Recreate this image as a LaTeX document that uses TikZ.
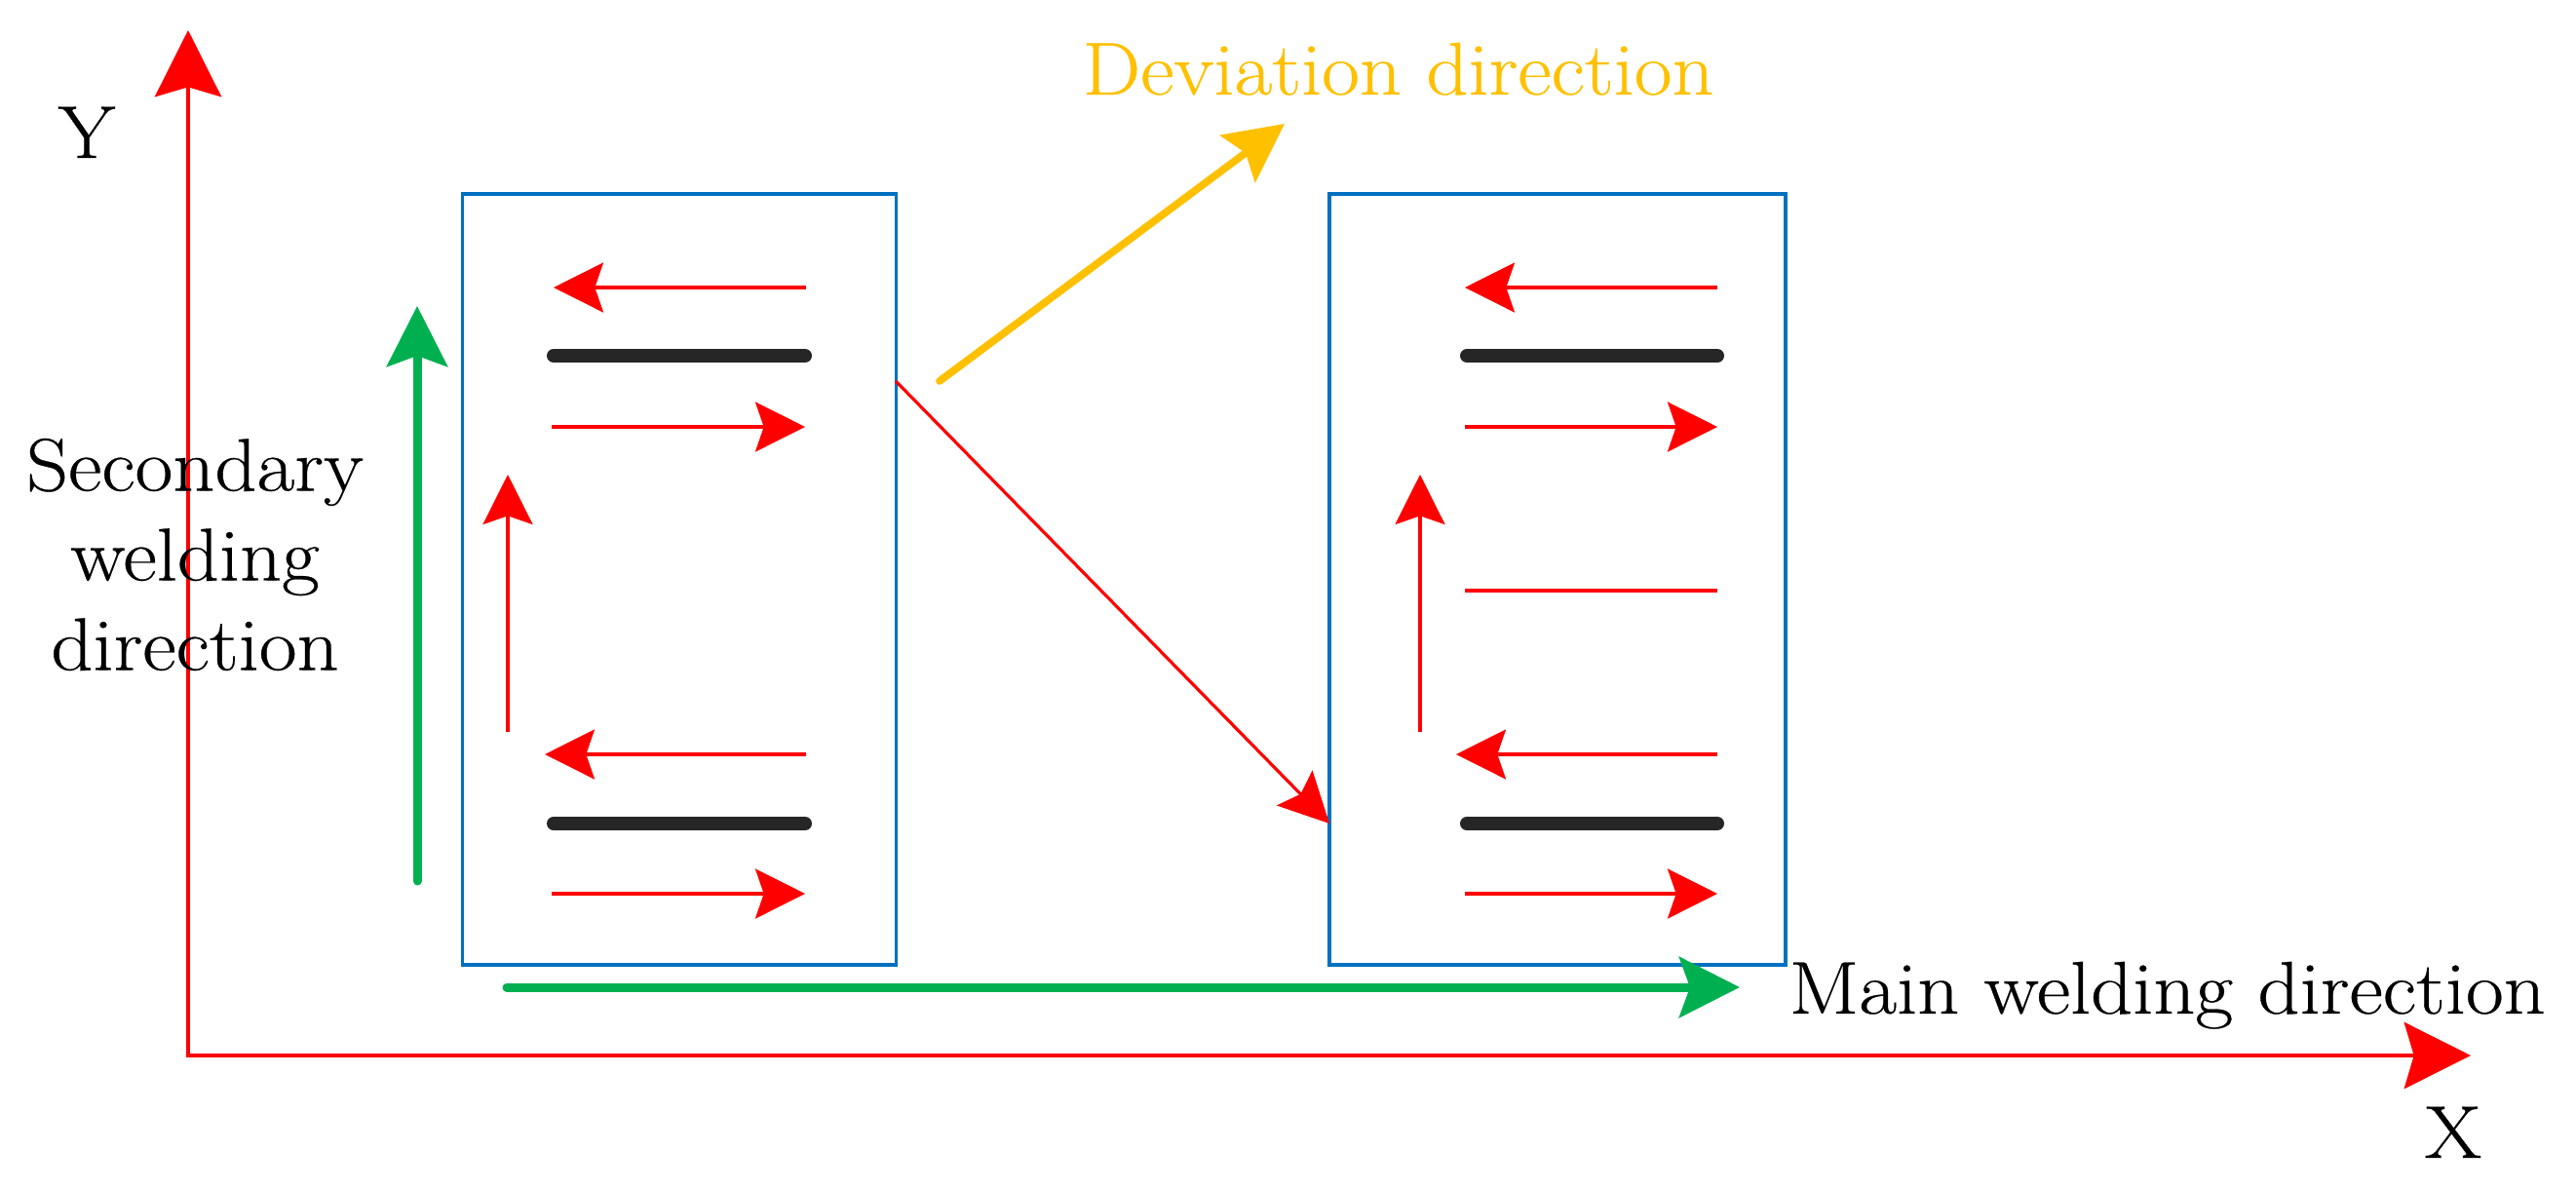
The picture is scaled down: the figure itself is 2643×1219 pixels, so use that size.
\documentclass[tikz,border=0pt]{standalone}
\usepackage{fontspec}
\setmainfont{Latin Modern Roman}[FakeStretch=1.1, FakeBold=0.4]
\usetikzlibrary{arrows.meta,calc}
\definecolor{axred}{HTML}{FF0000}
\definecolor{boxblue}{HTML}{0070C0}
\definecolor{wgreen}{HTML}{00B050}
\definecolor{devyellow}{HTML}{FFC000}
\definecolor{barblack}{HTML}{262626}
\begin{document}
\begin{tikzpicture}[x=0.3pt,y=-0.3pt,
  lbl/.style={inner sep=0pt, font=\fontsize{23}{27.6}\selectfont},
  panel/.style={draw=boxblue, line width=1pt, inner sep=0pt},
  redtip/.style={-{Stealth[length=15.3pt,width=15.3pt,inset=2.6pt]}},
  thinred/.style={draw=axred, line width=0.95pt},
  redarrow/.style={thinred, redtip},
  axisarrow/.style={draw=axred, line width=0.95pt, {Stealth[length=20.5pt,width=20.5pt,inset=3pt]}-{Stealth[length=20.5pt,width=20.5pt,inset=3pt]}},
  greenarrow/.style={draw=wgreen, line width=2.7pt, line cap=round, -{Stealth[length=18.6pt,width=18.6pt,inset=3.3pt]}},
  yellowarrow/.style={draw=devyellow, line width=2.3pt, line cap=round, -{Stealth[length=18pt,width=18pt,inset=3pt]}},
  bar/.style={draw=barblack, line width=4.2pt, line cap=round}]
\useasboundingbox (0,0) rectangle (2643,1219);

% axes
\coordinate (ytip) at (193,31);
\coordinate (orig) at (193,1083);
\coordinate (xtip) at (2535,1083);
\draw[axisarrow] (ytip) -- (orig) -- (xtip);
\node[lbl, anchor=base] (ylab) at (89,162) {Y};
\node[lbl, anchor=base] (xlab) at (2517,1188) {X};

% panels
\node[panel, minimum width=133.5pt, minimum height=237.3pt] (L) at (696.75,594.5) {};
\node[panel, minimum width=140.4pt, minimum height=237.3pt] (R) at (1598,594.5) {};

% left panel contents
\draw[redarrow] (827,295) -- (568,295);
\draw[bar] (568,365) -- (826,365);
\draw[redarrow] (566,438) -- (826,438);
\draw[redarrow] (521,751) -- (521,487);
\draw[redarrow] (827,774) -- (559,774);
\draw[bar] (568,845) -- (826,845);
\draw[redarrow] (566,917) -- (826,917);

% right panel contents
\draw[redarrow] (1762,295) -- (1503,295);
\draw[bar] (1505,365) -- (1762,365);
\draw[redarrow] (1503,438) -- (1762,438);
\draw[redarrow] (1457,751) -- (1457,487);
\draw[thinred] (1503,606) -- (1762,606);
\draw[redarrow] (1762,774) -- (1494,774);
\draw[bar] (1505,845) -- (1762,845);
\draw[redarrow] (1503,917) -- (1762,917);

% transfer arrow
\coordinate (d1) at (919,391);
\coordinate (d2) at (1364,845);
\draw[redarrow] (d1) -- (d2);

% deviation
\coordinate (y1) at (964,391);
\coordinate (y2) at (1318,127);
\draw[yellowarrow] (y1) -- (y2);
\node[lbl, anchor=base west, text=devyellow] (dev) at (1110,97) {Deviation direction};

% welding directions
\coordinate (g1) at (428,904);
\coordinate (g2) at (428,314);
\draw[greenarrow] (g1) -- (g2);
\coordinate (h1) at (520,1013);
\coordinate (h2) at (1785,1013);
\draw[greenarrow] (h1) -- (h2);
\node[lbl, anchor=base west] (main) at (1835,1040) {Main welding direction};
\node[lbl, align=center] (sec) at (200,569) {Secondary\\welding\\direction};
\end{tikzpicture}
\end{document}
